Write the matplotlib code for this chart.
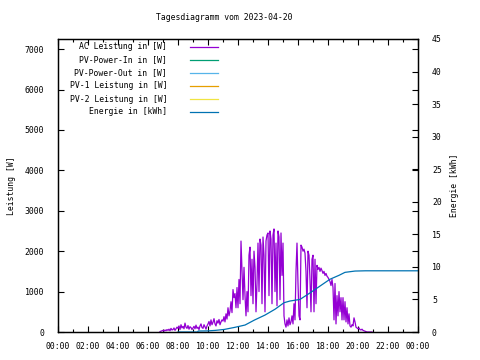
import numpy as np
import matplotlib
matplotlib.use("Agg")
import matplotlib.pyplot as plt
from matplotlib.ticker import MultipleLocator, FuncFormatter

# ---------------- data ----------------
title = "Tagesdiagramm vom 2023-04-20"
ylabel_left = "Leistung [W]"
ylabel_right = "Energie [kWh]"
legend_labels = ["AC Leistung in [W]", "PV-Power-In in [W]", "PV-Power-Out in [W]",
                 "PV-1 Leistung in [W]", "PV-2 Leistung in [W]", "Energie in [kWh]"]
legend_colors = ["#9400d3", "#009e73", "#56b4e9", "#e69f00", "#f0e442", "#0072b2"]

# AC power, sampled every 4 minutes starting at 06:48
ac_start_hour = 6.8
ac_step_minutes = 4
ac_power = [
    10, 20, 30,
    40, 20, 50, 30, 60, 40, 70, 30, 90, 50, 60, 100, 40, 80, 120,
    90, 150, 60, 180, 100, 140, 80, 220, 120, 90, 160, 70, 130, 110, 60,
    100, 140, 80, 170, 90, 120, 60, 150, 200, 110, 90, 180, 130, 70, 150,
    200, 260, 150, 300, 180, 240, 330, 200, 150, 280, 220, 310, 180, 250, 300,
    270, 380, 250, 450, 320, 600, 400, 520, 750, 480, 1050, 850, 950, 600, 1100,
    600, 1300, 700, 2250, 1500, 800, 1600, 900, 400, 1000, 500, 1900, 2100, 900, 1800,
    700, 2000, 1600, 500, 1200, 2200, 1000, 2300, 2150, 700, 2350, 1900, 500, 2250, 2400,
    2450, 900, 2500, 2300, 700, 2400, 2550, 1000, 2200, 650, 2500, 2350, 800, 2450, 1400,
    2200, 400, 200, 120, 300, 150, 350, 180, 250, 400, 200, 700, 300, 1500, 2200,
    1200, 400, 300, 2150, 2100, 2000, 2050, 1950, 1500, 600, 2000, 1900, 1300, 500, 1800,
    1900, 500, 1800, 700, 1650, 1550, 1600, 1500, 1580, 1520, 1450, 1500, 1400, 1450, 1380,
    1350, 1300, 1250, 1150, 1300, 1100, 300, 1200, 200, 900, 400, 1000, 500, 850, 300,
    850, 300, 750, 250, 600, 200, 450, 150, 120, 180, 150, 350, 250, 120, 100,
    80, 100, 60, 50, 70, 40, 30, 20, 10, 0, 0, 0, 0, 0, 0,
]

# cumulative energy (hour, kWh)
energy_hours = [8.0, 9.3, 9.35, 10.0, 10.5, 11.1, 11.8, 12.47, 13.1, 13.8, 14.47, 15.07,
                15.47, 16.13, 16.8, 17.47, 18.13, 18.73, 19.13, 19.8, 20.5, 24.0]
energy_kwh = [0.0, 0.0, 0.15, 0.17, 0.25, 0.4, 0.72, 1.07, 1.84, 2.6, 3.5, 4.5,
              4.76, 5.0, 6.0, 7.06, 8.1, 8.7, 9.16, 9.36, 9.4, 9.4]

x_ticks_hours = list(range(0, 25, 2))
y_left_max = 7250
y_right_max = 45

# ---------------- plot ----------------
FONT = "DejaVu Sans Mono"
FS = 5.9
plt.rcParams['font.family'] = [FONT]

fig = plt.figure(figsize=(4.8, 3.6), dpi=100)
ax = fig.add_axes([58/480, 28/360, 360/480, 293/360])
ax2 = ax.twinx()

ac_hours = ac_start_hour + np.arange(len(ac_power)) * ac_step_minutes / 60.0
ax.plot(ac_hours, ac_power, color=legend_colors[0], lw=0.9)
ax2.plot(energy_hours, energy_kwh, color=legend_colors[5], lw=0.9)

ax.set_xlim(0, 24)
ax.set_ylim(0, y_left_max)
ax2.set_ylim(0, y_right_max)

ax.set_xticks(x_ticks_hours)
ax.xaxis.set_minor_locator(MultipleLocator(1))
ax.xaxis.set_major_formatter(FuncFormatter(lambda v, p: "%02d:00" % (int(v) % 24)))
ax.yaxis.set_major_locator(MultipleLocator(1000))
ax2.yaxis.set_major_locator(MultipleLocator(5))

ax.tick_params(axis='x', which='major', direction='in', length=4, width=0.8,
               top=True, bottom=True, labelsize=FS, pad=7)
ax.tick_params(axis='x', which='minor', direction='in', length=2, width=0.8,
               top=True, bottom=True)
ax.tick_params(axis='y', which='major', direction='in', length=4, width=0.8,
               left=True, right=True, labelsize=FS, pad=10)
ax2.tick_params(axis='y', which='major', direction='in', length=4, width=0.8,
                right=True, labelsize=FS, pad=10)

for a in (ax, ax2):
    for s in a.spines.values():
        s.set_linewidth(0.9)
        s.set_color("black")

ax.set_ylabel(ylabel_left, fontsize=FS, labelpad=6)
ax2.set_ylabel(ylabel_right, fontsize=FS, labelpad=6)
fig.text(224/480, 1 - 18/360, title, ha='center', va='center', fontsize=FS)

# legend (gnuplot style: right-aligned text, sample line to the right)
row_y = [0.973, 0.928, 0.884, 0.840, 0.795, 0.751]
for lab, col, yy in zip(legend_labels, legend_colors, row_y):
    ax.text(0.303, yy, lab, transform=ax.transAxes, ha='right', va='center', fontsize=FS)
    ax.plot([0.367, 0.444], [yy, yy], transform=ax.transAxes, color=col, lw=0.9,
            clip_on=False)

fig.savefig("out.png", dpi=100)
